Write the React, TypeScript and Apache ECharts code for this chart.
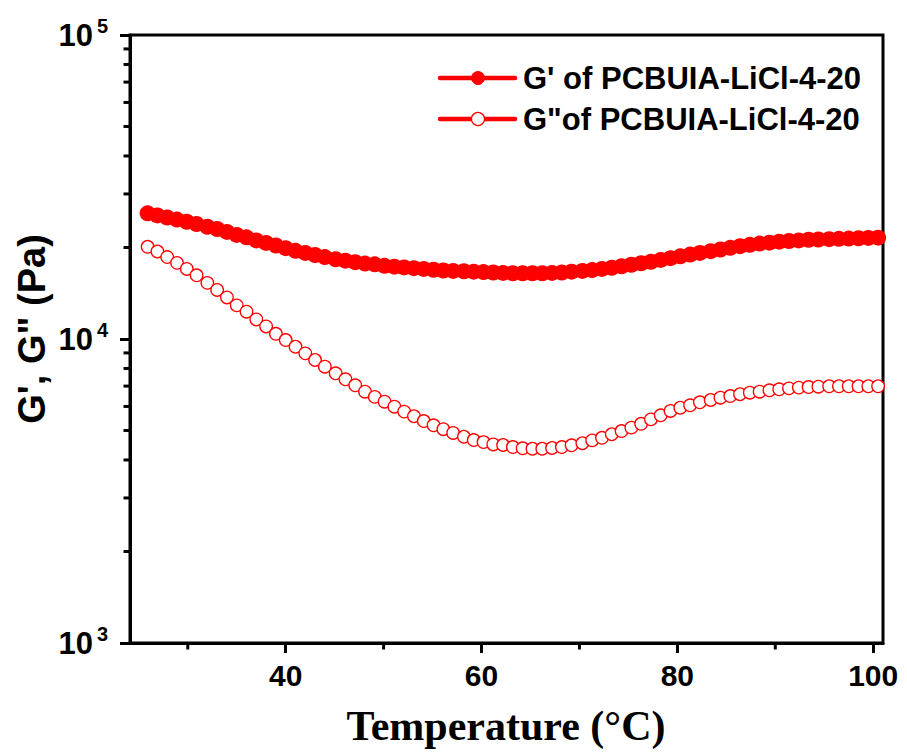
import React, { useEffect, useRef } from "react";
import * as echarts from "echarts";

const temps = [25.9, 26.9, 27.9, 28.9, 29.9, 30.9, 32.0, 33.0, 34.0, 35.0, 36.0, 37.0, 38.0, 39.0, 40.0, 41.0, 42.0, 43.0, 44.0, 45.1, 46.1, 47.1, 48.1, 49.1, 50.1, 51.1, 52.1, 53.1, 54.1, 55.1, 56.1, 57.1, 58.2, 59.2, 60.2, 61.2, 62.2, 63.2, 64.2, 65.2, 66.2, 67.2, 68.2, 69.2, 70.3, 71.3, 72.3, 73.3, 74.3, 75.3, 76.3, 77.3, 78.3, 79.3, 80.3, 81.3, 82.3, 83.4, 84.4, 85.4, 86.4, 87.4, 88.4, 89.4, 90.4, 91.4, 92.4, 93.4, 94.4, 95.5, 96.5, 97.5, 98.5, 99.5, 100.5];

const gPrime = [25900, 25500, 25100, 24700, 24300, 23900, 23400, 23000, 22500, 22000, 21600, 21100, 20700, 20300, 19900, 19500, 19200, 18900, 18600, 18300, 18100, 17900, 17700, 17600, 17400, 17300, 17200, 17100, 17000, 16900, 16800, 16750, 16700, 16650, 16600, 16550, 16500, 16450, 16450, 16450, 16450, 16500, 16550, 16650, 16750, 16850, 17000, 17150, 17350, 17550, 17750, 17950, 18200, 18450, 18700, 18950, 19200, 19450, 19700, 19950, 20200, 20400, 20600, 20750, 20900, 21000, 21100, 21200, 21250, 21300, 21350, 21400, 21450, 21500, 21550];

const gDouble = [20100, 19400, 18600, 17800, 17000, 16200, 15300, 14500, 13700, 12900, 12300, 11600, 11000, 10400, 9920, 9430, 8970, 8530, 8110, 7710, 7370, 7040, 6710, 6450, 6220, 5990, 5770, 5570, 5370, 5200, 5050, 4910, 4770, 4650, 4580, 4500, 4480, 4410, 4370, 4355, 4355, 4380, 4410, 4470, 4540, 4640, 4730, 4860, 4980, 5110, 5260, 5440, 5610, 5800, 5940, 6050, 6190, 6300, 6410, 6490, 6580, 6660, 6710, 6780, 6830, 6880, 6920, 6950, 6970, 6990, 6990, 6990, 6990, 6990, 6990];

const xMajorTicks = [40, 60, 80, 100];
const xMinorTicks = [30, 50, 70, 90];
const yMinorTicks = [2000, 3000, 4000, 5000, 6000, 7000, 8000, 9000, 20000, 30000, 40000, 50000, 60000, 70000, 80000, 90000];

const seriesNames = ["G' of PCBUIA-LiCl-4-20", 'G"of PCBUIA-LiCl-4-20'];
const xTitle = "Temperature (\u00B0C)";
const yTitle = "G', G\" (Pa)";

const SANS = "'Liberation Sans', Arial, sans-serif";
const SERIF = "'Liberation Serif', 'Times New Roman', serif";

const X_MIN = 24.1;
const X_MAX = 101;
const Y_MIN = 1000;
const Y_MAX = 100000;

export default function App() {
  const ref = useRef<HTMLDivElement>(null);
  useEffect(() => {
    if (!ref.current) return;
    const chart = echarts.init(ref.current, null, { renderer: "svg" });

    const legendRow = (y: number, idx: number): any => ({
      type: "group",
      children: [
        {
          type: "line",
          shape: { x1: 440, y1: y, x2: 515, y2: y },
          style: { stroke: "#ff0000", lineWidth: 4.5, lineCap: "round" },
        },
        {
          type: "circle",
          shape: { cx: 478, cy: y, r: 6.5 },
          style: idx === 0 ? { fill: "#ff0000", stroke: "#ff0000", lineWidth: 1 } : { fill: "#ffffff", stroke: "#ff0000", lineWidth: 1.3 },
        },
        {
          type: "text",
          x: 523,
          y: y,
          style: {
            text: seriesNames[idx],
            font: "bold 31px " + SANS,
            fill: "#000",
            textAlign: "left",
            textVerticalAlign: "middle",
          },
        },
      ],
    });

    const tickRender = (axis: "x" | "y") => (params: any, api: any) => {
      const p = api.coord([api.value(0), api.value(1)]);
      const shape = axis === "y"
        ? { x1: p[0] - 6.5, y1: p[1], x2: p[0], y2: p[1] }
        : { x1: p[0], y1: p[1], x2: p[0], y2: p[1] + 6.5 };
      return { type: "line", shape, style: { stroke: "#000", lineWidth: 3 } };
    };

    const option: any = {
      animation: false,
      backgroundColor: "#fff",
      grid: {
        left: 130,
        top: 35,
        width: 753,
        height: 608,
        show: true,
        borderColor: "#000",
        borderWidth: 3,
        backgroundColor: "transparent",
      },
      xAxis: {
        type: "value",
        min: X_MIN,
        max: X_MAX,
        position: "bottom",
        axisLine: { show: true, onZero: false, lineStyle: { color: "#000", width: 3 } },
        axisTick: { show: true, length: 10, customValues: xMajorTicks, lineStyle: { color: "#000", width: 3 } },
        axisLabel: {
          customValues: xMajorTicks,
          margin: 17,
          fontSize: 30,
          fontWeight: "bold",
          fontFamily: SANS,
          color: "#000",
        },
        splitLine: { show: false },
      },
      yAxis: {
        type: "log",
        logBase: 10,
        min: Y_MIN,
        max: Y_MAX,
        position: "left",
        axisLine: { show: true, onZero: false, lineStyle: { color: "#000", width: 3 } },
        axisTick: { show: true, length: 10, lineStyle: { color: "#000", width: 3 } },
        axisLabel: {
          margin: 22,
          fontSize: 31,
          fontWeight: "bold",
          fontFamily: SANS,
          color: "#000",
          formatter: (v: number) => "{b|10}{s|" + Math.round(Math.log10(v)) + "}",
          rich: {
            b: { fontSize: 31, fontWeight: "bold", fontFamily: SANS, color: "#000", lineHeight: 38 },
            s: { fontSize: 20, fontWeight: "bold", fontFamily: SANS, color: "#000", lineHeight: 20, verticalAlign: "top", padding: [0, 0, 0, 4] },
          },
        },
        splitLine: { show: false },
        minorTick: { show: false },
      },
      series: [
        {
          name: seriesNames[0],
          type: "line",
          data: temps.map((t, i) => [t, gPrime[i]]),
          symbol: "circle",
          symbolSize: 16,
          showAllSymbol: true,
          lineStyle: { color: "#ff0000", width: 3 },
          itemStyle: { color: "#ff0000", borderColor: "#ff0000", borderWidth: 0 },
          z: 3,
        },
        {
          name: seriesNames[1],
          type: "line",
          data: temps.map((t, i) => [t, gDouble[i]]),
          symbol: "circle",
          symbolSize: 12.5,
          showAllSymbol: true,
          lineStyle: { color: "#ff0000", width: 3 },
          itemStyle: { color: "#ffffff", borderColor: "#ff0000", borderWidth: 1.3 },
          z: 3,
        },
        {
          name: "yMinorTicks",
          type: "custom",
          clip: false,
          silent: true,
          renderItem: tickRender("y"),
          data: yMinorTicks.map((v) => [X_MIN, v]),
          z: 5,
        },
        {
          name: "xMinorTicks",
          type: "custom",
          clip: false,
          silent: true,
          renderItem: tickRender("x"),
          data: xMinorTicks.map((t) => [t, Y_MIN]),
          z: 5,
        },
      ],
      graphic: [
        legendRow(78, 0),
        legendRow(119, 1),
        {
          type: "text",
          x: 506,
          y: 726,
          style: {
            text: xTitle,
            font: "bold 42px " + SERIF,
            fill: "#000",
            textAlign: "center",
            textVerticalAlign: "middle",
          },
        },
        {
          type: "text",
          x: 32,
          y: 329,
          rotation: Math.PI / 2,
          style: {
            text: yTitle,
            font: "bold 38px " + SANS,
            fill: "#000",
            textAlign: "center",
            textVerticalAlign: "middle",
          },
        },
      ],
    };
    chart.setOption(option);
    return () => chart.dispose();
  }, []);
  return (
    <div
      ref={ref}
      style={{ position: "fixed", left: 0, top: 0, width: 907, height: 754, background: "#fff" }}
    />
  );
}
